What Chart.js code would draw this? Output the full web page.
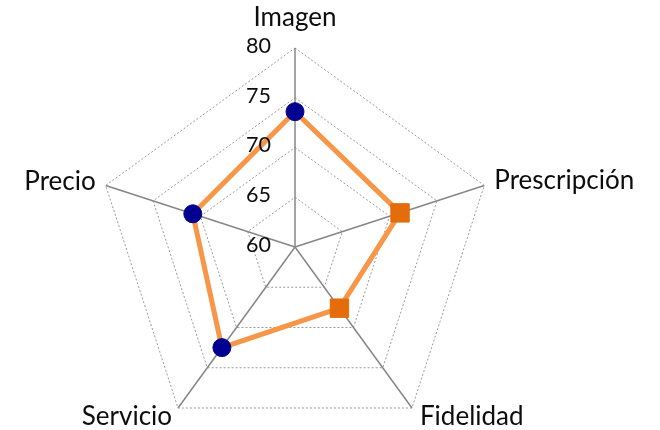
<!DOCTYPE html>
<html>
<head>
<meta charset="utf-8">
<script src="https://cdn.jsdelivr.net/npm/chart.js@4"></script>
<style>
  body { margin: 0; background: #fff; overflow: hidden; }
  #wrap { width: 660px; height: 430px; overflow: hidden; }
</style>
</head>
<body>
<div id="wrap"><canvas id="cht" width="660" height="446"></canvas></div>
<script>
// categories and values
const categories = ['Imagen', 'Prescripción', 'Fidelidad', 'Servicio', 'Precio'];
const scores = [73.6, 71.1, 67.6, 72.5, 70.8];
const tickLabels = ['60', '65', '70', '75', '80'];

const labelFont = '26px Lato';
const tickFont = '21.5px Lato';

// labels are drawn by hand so they can sit where the original has them
const labelPlugin = {
    id: 'radarText',
    afterDraw(chart) {
        const ctx = chart.ctx;
        const r = chart.scales.r;
        ctx.save();
        ctx.fillStyle = '#0d0d0d';

        // tick numbers to the left of the top axis
        ctx.font = tickFont;
        ctx.textAlign = 'right';
        ctx.textBaseline = 'middle';
        tickLabels.forEach(t => {
            const p = r.getPointPositionForValue(0, Number(t));
            ctx.fillText(t, p.x - 24, p.y - 2);
        });

        // category names
        ctx.font = labelFont;
        ctx.textBaseline = 'alphabetic';
        const place = [
            ['center', 0, -22],
            ['left', 10, 3],
            ['left', 8, 17],
            ['right', -6, 17],
            ['right', -10, 4]
        ];
        categories.forEach((c, i) => {
            const p = r.getPointPosition(i, r.drawingArea);
            ctx.textAlign = place[i][0];
            ctx.fillText(c, p.x + place[i][1], p.y + place[i][2]);
        });
        ctx.restore();
    }
};

const chart = new Chart(document.getElementById('cht'), {
    type: 'radar',
    data: {
        labels: categories,
        datasets: [{
            data: scores,
            borderColor: '#F79646',
            borderWidth: 5,
            fill: false,
            pointStyle: ['circle', 'rect', 'rect', 'circle', 'circle'],
            pointRadius: [9, 13, 13, 9, 9],
            pointBackgroundColor: ['#000090', '#E46C0A', '#E46C0A', '#000090', '#000090'],
            pointBorderColor: ['#000090', '#E46C0A', '#E46C0A', '#000090', '#000090'],
            pointBorderWidth: 1
        }]
    },
    options: {
        responsive: false,
        animation: false,
        layout: { padding: { left: 96, right: 166, top: 48, bottom: 0 } },
        plugins: {
            legend: { display: false },
            tooltip: { enabled: false }
        },
        scales: {
            r: {
                min: 60,
                max: 80,
                ticks: { stepSize: 5, display: false },
                pointLabels: { display: false },
                grid: { color: '#9a9a9a', lineWidth: 1 },
                border: { dash: [2, 2] },
                angleLines: { color: '#868686', lineWidth: 1.5 }
            }
        }
    },
    plugins: [labelPlugin]
});
</script>
</body>
</html>
